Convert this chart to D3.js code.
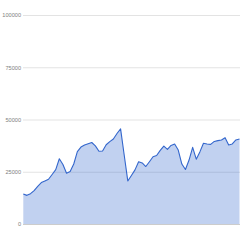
<!DOCTYPE html>
<html>
<head>
<meta charset="utf-8">
<script src="https://cdn.jsdelivr.net/npm/d3@7"></script>
<style>
  html, body { margin: 0; padding: 0; background: #fff; }
</style>
</head>
<body>
<div id="chart"></div>
<script>
// series values, one point per period
var values = [
  14400, 13700, 14500, 16000, 18000, 19800, 20600, 21400, 23700, 26000,
  31200, 28500, 24300, 25100, 28700, 34600, 36800, 37800, 38400, 39000,
  37400, 34800, 34900, 37900, 39400, 40700, 43300, 45500, 33000, 20600,
  23200, 25900, 29800, 29200, 27500, 29800, 32200, 32800, 35200, 37300,
  35700, 37600, 38300, 35400, 28700, 26100, 30600, 36700, 31000, 34500,
  38600, 38300, 38100, 39500, 39900, 40200, 41300, 37800, 38300, 40200,
  40700
];
var ticks = [0, 25000, 50000, 75000, 100000];

var width = 240, height = 240;
var mLeft = 23, mRight = 240, mTop = 15, mBottom = 224;

var svg = d3.select("#chart").append("svg")
  .attr("width", width)
  .attr("height", height)
  .style("display", "block");

var x = d3.scaleLinear().domain([0, values.length - 1]).range([mLeft + 0.3, mRight - 0.5]);
var y = d3.scaleLinear().domain([0, 100000]).range([mBottom, mTop]);

// gridlines + labels
var yAxis = svg.append("g")
  .attr("transform", "translate(" + mLeft + ",0)")
  .call(d3.axisLeft(y).tickValues(ticks).tickFormat(d3.format("d"))
    .tickSize(-(mRight - mLeft)).tickPadding(2));

yAxis.select(".domain").remove();
yAxis.selectAll(".tick line")
  .attr("stroke", d => d == 0 ? "#cccccc" : "#e3e3e3")
  .attr("stroke-width", 1);
yAxis.selectAll(".tick text")
  .attr("fill", "#808080")
  .style("font-family", "'Liberation Sans', Arial, sans-serif")
  .style("font-size", "5.6px");

var area = d3.area()
  .x((d, i) => x(i))
  .y0(y(0))
  .y1(d => y(d));

var line = d3.line()
  .x((d, i) => x(i))
  .y(d => y(d));

svg.append("path")
  .datum(values)
  .attr("d", area)
  .attr("fill", "#3366cc")
  .attr("fill-opacity", 0.3);

svg.append("path")
  .datum(values)
  .attr("d", line)
  .attr("fill", "none")
  .attr("stroke", "#3366cc")
  .attr("stroke-width", 1.1)
  .attr("stroke-linejoin", "round");
</script>
</body>
</html>
